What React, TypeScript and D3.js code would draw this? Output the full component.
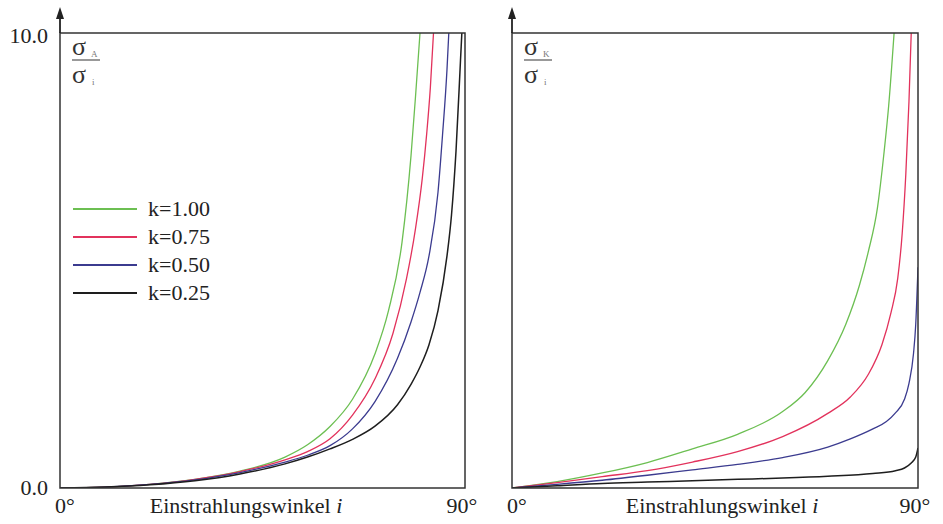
import React from "react";
import * as d3 from "d3";

// left panel: sigma_A / sigma_i
const angL100 = [0, 10, 20, 30, 40, 50, 55, 60, 65, 70, 73, 76, 78, 79, 80];
const valL100 = [0, 0.02, 0.08, 0.19, 0.37, 0.68, 0.95, 1.35, 1.95, 2.95, 3.9, 5.4, 7.3, 8.6, 10];
const angL075 = [0, 10, 20, 30, 40, 50, 55, 60, 65, 70, 74, 77, 79, 80.5, 81.5, 82.3, 83];
const valL075 = [0, 0.02, 0.08, 0.19, 0.36, 0.62, 0.8, 1.08, 1.6, 2.4, 3.4, 4.6, 5.7, 6.8, 7.8, 8.8, 10];
const angL050 = [0, 10, 20, 30, 40, 50, 55, 60, 65, 70, 75, 78, 80, 82, 84, 85, 86, 86.4];
const valL050 = [0, 0.02, 0.08, 0.18, 0.34, 0.57, 0.72, 0.93, 1.3, 1.9, 2.85, 3.65, 4.3, 5.1, 6.5, 7.75, 9.2, 10];
const angL025 = [0, 10, 20, 30, 40, 50, 55, 60, 65, 70, 75, 78, 80, 82, 84, 86, 87, 88, 89, 89.3];
const valL025 = [0, 0.02, 0.07, 0.16, 0.31, 0.53, 0.68, 0.86, 1.07, 1.36, 1.83, 2.28, 2.66, 3.15, 3.9, 5.1, 6.0, 7.4, 9.4, 10];

// right panel: sigma_K / sigma_i
const angR100 = [0, 10, 20, 30, 40, 50, 60, 65, 70, 74, 77, 79, 81, 82.5, 83.5, 84.7];
const valR100 = [0, 0.14, 0.33, 0.56, 0.86, 1.18, 1.68, 2.1, 2.8, 3.6, 4.45, 5.2, 6.15, 7.4, 8.4, 10];
const angR075 = [0, 10, 20, 30, 40, 50, 60, 70, 75, 79, 82, 84, 85.5, 86.5, 87.3, 88, 88.5];
const valR075 = [0, 0.12, 0.25, 0.38, 0.57, 0.8, 1.13, 1.64, 2.0, 2.5, 3.15, 3.85, 4.6, 5.6, 6.9, 8.5, 10];
const angR050 = [0, 10, 20, 30, 40, 50, 60, 70, 75, 80, 83, 85, 87, 88, 89, 89.5, 90];
const valR050 = [0, 0.08, 0.17, 0.28, 0.4, 0.52, 0.67, 0.9, 1.08, 1.3, 1.46, 1.65, 1.95, 2.3, 2.95, 3.6, 4.85];
const angR025 = [0, 10, 20, 30, 40, 50, 60, 70, 80, 85, 87, 88.5, 89.5, 90];
const valR025 = [0, 0.05, 0.1, 0.13, 0.16, 0.19, 0.22, 0.26, 0.32, 0.38, 0.44, 0.55, 0.68, 0.88];

const kLabels = ["k=1.00", "k=0.75", "k=0.50", "k=0.25"];
const kColors = ["#6cbf52", "#e2325c", "#3b3b8f", "#1e1e1e"];
const yTicks = ["0.0", "10.0"];
const xTicks = ["0°", "90°"];
const xTitle = "Einstrahlungswinkel";

const FONT = "'Liberation Serif', 'Times New Roman', serif";

function zip(a: number[], v: number[]) {
  return a.map((x, i) => [x, v[i]] as [number, number]);
}

const leftSeries = [zip(angL100, valL100), zip(angL075, valL075), zip(angL050, valL050), zip(angL025, valL025)];
const rightSeries = [zip(angR100, valR100), zip(angR075, valR075), zip(angR050, valR050), zip(angR025, valR025)];

function Panel(props: { x0: number; x1: number; series: [number, number][][]; id: string; num: string; showY: boolean; legend: boolean; titleX: number }) {
  const top = 33, bottom = 488;
  const x = d3.scaleLinear().domain([0, 90]).range([props.x0, props.x1]);
  const y = d3.scaleLinear().domain([0, 10]).range([bottom, top]);
  const line = d3.line<[number, number]>()
    .x(d => x(d[0]))
    .y(d => y(d[1]))
    .curve(d3.curveMonotoneX);
  const ax = x(0);
  return (
    <g>
      <defs>
        <clipPath id={props.id}>
          <rect x={props.x0} y={top} width={props.x1 - props.x0} height={bottom - top} />
        </clipPath>
      </defs>
      <g clipPath={`url(#${props.id})`}>
        {props.series.map((s, i) => (
          <path key={i} d={line(s) || ""} fill="none" stroke={kColors[i]} strokeWidth={i === 3 ? 1.5 : 1.3} />
        ))}
      </g>
      <rect x={props.x0} y={top} width={props.x1 - props.x0} height={bottom - top} fill="none" stroke="#333" strokeWidth={1.5} />
      {/* y axis arrow */}
      <line x1={ax} x2={ax} y1={top} y2={14} stroke="#222" strokeWidth={1.8} />
      <path d={`M${ax},7 L${ax - 4},19 L${ax + 4},19 Z`} fill="#222" />
      {props.showY && (
        <g fontFamily={FONT} fontSize={22} fill="#222" textAnchor="end">
          <text x={ax - 12} y={y(0) + 7}>{yTicks[0]}</text>
          <text x={ax - 12} y={y(10) + 10}>{yTicks[1]}</text>
        </g>
      )}
      <g fontFamily={FONT} fontSize={22} fill="#222">
        <text x={x(0) - 5} y={513}>{xTicks[0]}</text>
        <text x={x(90) - 3} y={513} textAnchor="middle">{xTicks[1]}</text>
        <text x={props.titleX} y={513} textAnchor="middle">
          {xTitle} <tspan fontStyle="italic">i</tspan>
        </text>
      </g>
      {/* ratio label */}
      <g fontFamily={FONT} fill="#333">
        <text x={ax + 12} y={55} fontSize={26}>σ</text>
        <text x={ax + 31} y={57} fontSize={9} fill="#777">{props.num}</text>
        <line x1={ax + 12} x2={ax + 40} y1={60} y2={60} stroke="#555" strokeWidth={1.2} />
        <text x={ax + 12} y={83} fontSize={26}>σ</text>
        <text x={ax + 32} y={85} fontSize={9} fill="#777">i</text>
      </g>
      {props.legend && (
        <g fontFamily={FONT} fontSize={22} fill="#222">
          {kLabels.map((k, i) => (
            <g key={k}>
              <line x1={73} x2={137} y1={209 + i * 28} y2={209 + i * 28} stroke={kColors[i]} strokeWidth={2.2} />
              <text x={148} y={216 + i * 28}>{k}</text>
            </g>
          ))}
        </g>
      )}
    </g>
  );
}

export default function App() {
  return (
    <svg width={943} height={524} style={{ position: "absolute", left: 0, top: 0, background: "#fff" }}>
      <Panel x0={60} x1={465} series={leftSeries} id="clipL" num="A" showY legend titleX={246} />
      <Panel x0={512} x1={918} series={rightSeries} id="clipR" num="K" showY={false} legend={false} titleX={722} />
    </svg>
  );
}
